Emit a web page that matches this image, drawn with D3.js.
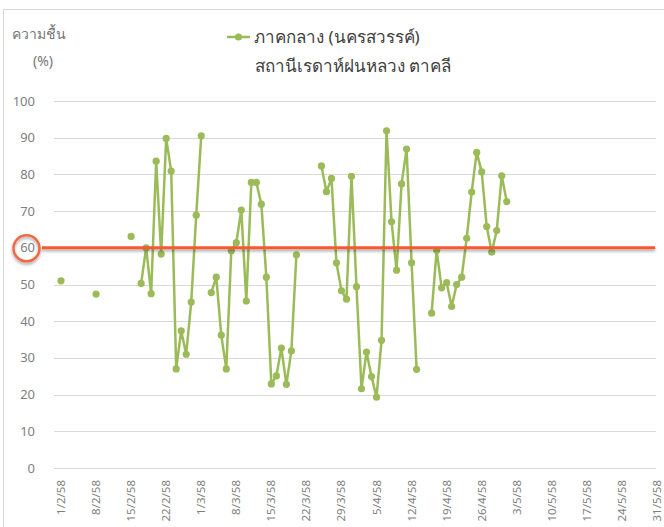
<!DOCTYPE html>
<html>
<head>
<meta charset="utf-8">
<script src="https://cdn.jsdelivr.net/npm/d3@7"></script>
<style>
  body { margin: 0; background: #fff; }
  svg { display: block; font-family: "Noto Sans", "Liberation Sans", sans-serif; }
  .grid line { stroke: #d9d9d9; stroke-width: 1; }
  .tick-label { fill: #808080; }
</style>
</head>
<body>
<svg class="chart" width="664" height="527"></svg>
<script>
// observed days (day/month, 2015 = 2558 BE) and humidity %
const obsDates = ["1/2","8/2","15/2","17/2","18/2","19/2","20/2","21/2","22/2","23/2","24/2","25/2","26/2","27/2","28/2","1/3",
  "3/3","4/3","5/3","6/3","7/3","8/3","9/3","10/3","11/3","12/3","13/3","14/3","15/3","16/3","17/3","18/3","19/3","20/3",
  "25/3","26/3","27/3","28/3","29/3","30/3","31/3","1/4","2/4","3/4","4/4","5/4","6/4","7/4","8/4","9/4","10/4","11/4","12/4","13/4",
  "16/4","17/4","18/4","19/4","20/4","21/4","22/4","23/4","24/4","25/4","26/4","27/4","28/4","29/4","30/4","1/5"];
const humidity = [51.0,47.4,63.1,50.3,60.0,47.5,83.6,58.3,89.8,80.9,27.0,37.4,31.0,45.2,68.9,90.5,
  47.8,52.0,36.2,27.0,59.2,61.4,70.3,45.5,77.8,77.8,71.9,52.0,22.9,25.1,32.7,22.8,31.9,58.1,
  82.3,75.3,78.9,55.9,48.3,46.0,79.5,49.4,21.6,31.6,24.9,19.3,34.8,91.9,67.1,53.9,77.4,86.9,55.9,26.9,
  42.2,59.3,49.1,50.5,44.0,50.0,52.0,62.6,75.2,86.0,80.7,65.8,58.8,64.7,79.6,72.6];
const tickDates = ["1/2","8/2","15/2","22/2","1/3","8/3","15/3","22/3","29/3","5/4","12/4","19/4","26/4","3/5","10/5","17/5","24/5","31/5"];
const yTicks = [0,10,20,30,40,50,60,70,80,90,100];
const threshold = 60;
const seriesName = "ภาคกลาง (นครสวรรค์)";
const subTitle = "สถานีเรดาห์ฝนหลวง ตาคลี";
const yTitle = ["ความชื้น", "(%)"];

const parse = s => { const p = s.split("/"); return new Date(2015, +p[1] - 1, +p[0]); };

// daily series, null where no reading
const obs = new Map(obsDates.map((d, i) => [+parse(d), humidity[i]]));
const daily = d3.timeDay.range(parse("1/2"), d3.timeDay.offset(parse("1/5"), 1))
  .map(d => ({ date: d, value: obs.has(+d) ? obs.get(+d) : null }));

const svg = d3.select("svg.chart");

const defs = svg.append("defs");
const shadow = defs.append("filter").attr("id", "shadow")
  .attr("filterUnits", "userSpaceOnUse")
  .attr("x", 0).attr("y", 0).attr("width", 664).attr("height", 527);
shadow.append("feDropShadow").attr("dx", 0).attr("dy", 2).attr("stdDeviation", 1.5)
  .attr("flood-color", "#000").attr("flood-opacity", 0.35);

// chart frame
svg.append("rect")
  .attr("x", 3.5).attr("y", 9.5).attr("width", 700).attr("height", 600)
  .attr("fill", "none").attr("stroke", "#d9d9d9");

const x = d3.scaleTime()
  .domain([parse("1/2"), parse("31/5")])
  .range([61, 657]);

const y = d3.scaleLinear()
  .domain([0, 100])
  .range([468, 101]);

// gridlines
svg.append("g")
  .attr("class", "grid")
  .selectAll("line")
  .data(yTicks)
  .enter().append("line")
  .attr("x1", 54)
  .attr("x2", 656)
  .attr("y1", d => Math.round(y(d)) + 0.5)
  .attr("y2", d => Math.round(y(d)) + 0.5);

// y axis labels
svg.append("g")
  .selectAll("text")
  .data(yTicks)
  .enter().append("text")
  .attr("class", "tick-label")
  .attr("x", 35)
  .attr("y", d => y(d))
  .attr("dy", "0.35em")
  .attr("text-anchor", "end")
  .style("font-size", "13px")
  .text(d => d);

// x axis labels
svg.append("g")
  .selectAll("text")
  .data(tickDates)
  .enter().append("text")
  .attr("class", "tick-label")
  .attr("transform", d => "translate(" + (x(parse(d)) + 4) + ",480) rotate(-90)")
  .attr("text-anchor", "end")
  .style("font-size", "11.5px")
  .text(d => d + "/58");

// humidity line
const line = d3.line()
  .defined(d => d.value !== null)
  .x(d => x(d.date))
  .y(d => y(d.value));

svg.append("path")
  .datum(daily)
  .attr("fill", "none")
  .attr("stroke", "#9bbb59")
  .attr("stroke-width", 2.5)
  .attr("stroke-linejoin", "round")
  .attr("d", line);

svg.append("g")
  .selectAll("circle")
  .data(daily.filter(d => d.value !== null))
  .enter().append("circle")
  .attr("cx", d => x(d.date))
  .attr("cy", d => y(d.value))
  .attr("r", 3.6)
  .attr("fill", "#9bbb59");

// threshold line + circled label
svg.append("line")
  .attr("x1", 42)
  .attr("x2", 655)
  .attr("y1", y(threshold))
  .attr("y2", y(threshold))
  .attr("stroke", "#f55a32")
  .attr("stroke-width", 3)
  .attr("filter", "url(#shadow)");

svg.append("circle")
  .attr("cx", 26.5)
  .attr("cy", y(threshold) + 0.5)
  .attr("r", 13)
  .attr("fill", "none")
  .attr("stroke", "#ef6a43")
  .attr("stroke-width", 2.5)
  .attr("filter", "url(#shadow)");

// legend / title
svg.append("line")
  .attr("x1", 227).attr("x2", 250).attr("y1", 37).attr("y2", 37)
  .attr("stroke", "#9bbb59").attr("stroke-width", 2.5);
svg.append("circle")
  .attr("cx", 238.5).attr("cy", 37).attr("r", 3.6).attr("fill", "#9bbb59");

svg.append("text")
  .attr("x", 254).attr("y", 43)
  .style("font-size", "17px").attr("fill", "#404040")
  .text(seriesName);
svg.append("text")
  .attr("x", 255).attr("y", 72)
  .style("font-size", "17px").attr("fill", "#404040")
  .text(subTitle);

svg.append("text")
  .attr("x", 12).attr("y", 39)
  .style("font-size", "14px").attr("fill", "#767676")
  .text(yTitle[0]);
svg.append("text")
  .attr("x", 33).attr("y", 66)
  .style("font-size", "14px").attr("fill", "#767676")
  .text(yTitle[1]);
</script>
</body>
</html>
